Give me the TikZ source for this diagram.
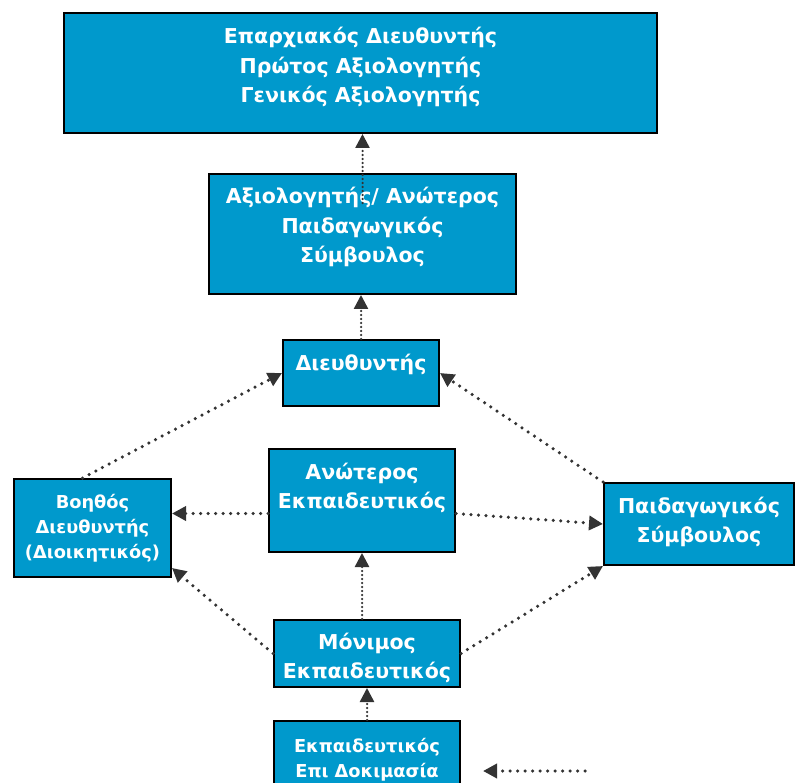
\documentclass[tikz,border=0pt]{standalone}
\usepackage{fontspec}
\setmainfont{DejaVu Sans}
\usetikzlibrary{arrows.meta,positioning}

\definecolor{boxblue}{HTML}{0099CC}
\definecolor{dotgray}{HTML}{333333}

% text block of a box: width, height, first baseline, lines
\newcommand{\boxlines}[4]{\parbox[c][#2][t]{#1}{\centering\rule{0pt}{#3}#4}}

\begin{document}
\begin{tikzpicture}[x=1pt, y=1pt,
    rolebox/.style = {rectangle, draw=black, line width=2pt, fill=boxblue, text=white, inner sep=0pt, anchor=north west, font=\bfseries\fontsize{20.5}{29.5}\selectfont},
    smallbox/.style = {rolebox, font=\bfseries\fontsize{17.8}{25}\selectfont},
    arrow/.style = {draw=dotgray, line width=3.5pt, line cap=round, dash pattern=on 0pt off 7.5pt, -{Triangle[length=14pt,width=14pt]}},
    thinarrow/.style = {arrow, line width=2.5pt, dash pattern=on 0pt off 4pt}
]
\clip (0,0) rectangle (795,-783);

% Nodes
\node (regional) [rolebox] at (63,-12) {\boxlines{593pt}{120pt}{31pt}{Επαρχιακός Διευθυντής\\Πρώτος Αξιολογητής\\Γενικός Αξιολογητής}};
\node (evaluator) [rolebox] at (208,-173) {\boxlines{307pt}{120pt}{30pt}{Αξιολογητής/ Ανώτερος\\Παιδαγωγικός\\Σύμβουλος}};
\node (director) [rolebox] at (282,-339) {\boxlines{156pt}{66pt}{30pt}{Διευθυντής}};
\node (assistant) [smallbox] at (13,-478) {\boxlines{157pt}{98pt}{29pt}{Βοηθός\\Διευθυντής\\(Διοικητικός)}};
\node (senior) [rolebox] at (268,-448) {\boxlines{186pt}{103pt}{30pt}{Ανώτερος\\Εκπαιδευτικός}};
\node (advisor) [rolebox] at (603,-482) {\boxlines{190pt}{82pt}{30pt}{Παιδαγωγικός\\Σύμβουλος}};
\node (permanent) [rolebox] at (273,-619) {\boxlines{186pt}{67pt}{29pt}{Μόνιμος\\Εκπαιδευτικός}};
\node (probation) [smallbox] at (273,-720) {\boxlines{186pt}{80pt}{31pt}{Εκπαιδευτικός\\Επι Δοκιμασία}};

\coordinate (loosestart) at (585,-771);
\coordinate (looseend) at (483,-771);

% Edges
\draw [thinarrow] ([yshift=-30pt]evaluator.north) -- (evaluator.north |- regional.south);
\draw [thinarrow] (director.north) -- (director.north |- evaluator.south);
\draw [arrow] ([xshift=-10pt]assistant.north) -- (director.west);
\draw [arrow] (advisor.north west) -- (director.east);
\draw [arrow] ([yshift=-13pt]senior.west) -- ([yshift=-13pt]senior.west -| assistant.east);
\draw [arrow] ([yshift=-13pt]senior.east) -- (advisor.west);
\draw [thinarrow] (senior.south |- permanent.north) -- (senior.south);
\draw [arrow] (permanent.west) -- ([yshift=10pt]assistant.south east);
\draw [arrow] (permanent.east) -- (advisor.south west);
\draw [thinarrow] (permanent.south |- probation.north) -- (permanent.south);
\draw [arrow] (loosestart) -- (looseend);

\end{tikzpicture}
\end{document}
